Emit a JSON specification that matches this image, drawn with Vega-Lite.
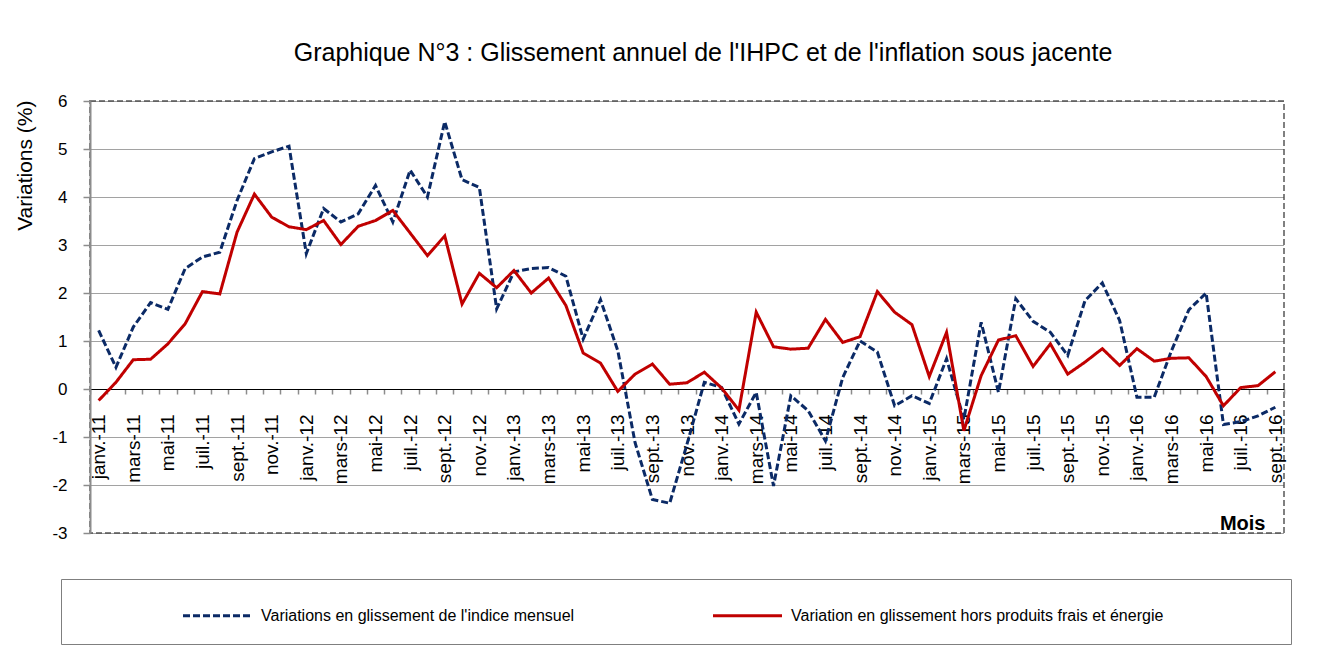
{
  "$schema": "https://vega.github.io/schema/vega-lite/v6.json",
  "width": 1194,
  "height": 432,
  "autosize": {"type": "none"},
  "padding": {"left": 90, "top": 101, "right": 42, "bottom": 129},
  "background": "white",
  "title": {
    "text": "Graphique N°3 : Glissement annuel de l'IHPC et de l'inflation sous jacente",
    "font": "Liberation Sans",
    "fontSize": 25,
    "fontWeight": "normal",
    "color": "#000000",
    "anchor": "middle",
    "dx": 16,
    "offset": 6,
    "baseline": "alphabetic"
  },
  "data": {
    "values": [
      {"mois": "janv.-11", "a": 1.22, "b": -0.24},
      {"mois": "févr.-11", "a": 0.45, "b": 0.14},
      {"mois": "mars-11", "a": 1.29, "b": 0.61},
      {"mois": "avr.-11", "a": 1.80, "b": 0.62},
      {"mois": "mai-11", "a": 1.66, "b": 0.94},
      {"mois": "juin-11", "a": 2.51, "b": 1.36},
      {"mois": "juil.-11", "a": 2.75, "b": 2.03},
      {"mois": "août-11", "a": 2.85, "b": 1.98},
      {"mois": "sept.-11", "a": 3.93, "b": 3.27},
      {"mois": "oct.-11", "a": 4.80, "b": 4.06},
      {"mois": "nov.-11", "a": 4.94, "b": 3.58},
      {"mois": "déc.-11", "a": 5.06, "b": 3.38},
      {"mois": "janv.-12", "a": 2.82, "b": 3.32},
      {"mois": "févr.-12", "a": 3.76, "b": 3.51},
      {"mois": "mars-12", "a": 3.48, "b": 3.01},
      {"mois": "avr.-12", "a": 3.65, "b": 3.39},
      {"mois": "mai-12", "a": 4.24, "b": 3.51},
      {"mois": "juin-12", "a": 3.48, "b": 3.72},
      {"mois": "juil.-12", "a": 4.56, "b": 3.25},
      {"mois": "août-12", "a": 4.00, "b": 2.78},
      {"mois": "sept.-12", "a": 5.57, "b": 3.19},
      {"mois": "oct.-12", "a": 4.36, "b": 1.77},
      {"mois": "nov.-12", "a": 4.20, "b": 2.41},
      {"mois": "déc.-12", "a": 1.67, "b": 2.11},
      {"mois": "janv.-13", "a": 2.44, "b": 2.47},
      {"mois": "févr.-13", "a": 2.51, "b": 2.00},
      {"mois": "mars-13", "a": 2.53, "b": 2.31},
      {"mois": "avr.-13", "a": 2.35, "b": 1.74},
      {"mois": "mai-13", "a": 1.04, "b": 0.75},
      {"mois": "juin-13", "a": 1.86, "b": 0.54},
      {"mois": "juil.-13", "a": 0.80, "b": -0.05},
      {"mois": "août-13", "a": -1.12, "b": 0.31},
      {"mois": "sept.-13", "a": -2.30, "b": 0.52},
      {"mois": "oct.-13", "a": -2.38, "b": 0.10},
      {"mois": "nov.-13", "a": -1.15, "b": 0.13},
      {"mois": "déc.-13", "a": 0.14, "b": 0.35},
      {"mois": "janv.-14", "a": 0.03, "b": 0.02},
      {"mois": "févr.-14", "a": -0.73, "b": -0.44},
      {"mois": "mars-14", "a": -0.07, "b": 1.60},
      {"mois": "avr.-14", "a": -2.02, "b": 0.88},
      {"mois": "mai-14", "a": -0.14, "b": 0.83},
      {"mois": "juin-14", "a": -0.45, "b": 0.85},
      {"mois": "juil.-14", "a": -1.08, "b": 1.45},
      {"mois": "août-14", "a": 0.24, "b": 0.97},
      {"mois": "sept.-14", "a": 1.00, "b": 1.09},
      {"mois": "oct.-14", "a": 0.77, "b": 2.03},
      {"mois": "nov.-14", "a": -0.35, "b": 1.60},
      {"mois": "déc.-14", "a": -0.14, "b": 1.34},
      {"mois": "janv.-15", "a": -0.30, "b": 0.26},
      {"mois": "févr.-15", "a": 0.63, "b": 1.18},
      {"mois": "mars-15", "a": -0.63, "b": -0.87},
      {"mois": "avr.-15", "a": 1.39, "b": 0.28},
      {"mois": "mai-15", "a": -0.07, "b": 1.02},
      {"mois": "juin-15", "a": 1.88, "b": 1.11},
      {"mois": "juil.-15", "a": 1.41, "b": 0.47},
      {"mois": "août-15", "a": 1.18, "b": 0.94},
      {"mois": "sept.-15", "a": 0.70, "b": 0.31},
      {"mois": "oct.-15", "a": 1.84, "b": 0.56},
      {"mois": "nov.-15", "a": 2.21, "b": 0.84},
      {"mois": "déc.-15", "a": 1.43, "b": 0.49},
      {"mois": "janv.-16", "a": -0.17, "b": 0.84},
      {"mois": "févr.-16", "a": -0.17, "b": 0.58},
      {"mois": "mars-16", "a": 0.80, "b": 0.64},
      {"mois": "avr.-16", "a": 1.65, "b": 0.65},
      {"mois": "mai-16", "a": 2.00, "b": 0.26},
      {"mois": "juin-16", "a": -0.74, "b": -0.35},
      {"mois": "juil.-16", "a": -0.68, "b": 0.03},
      {"mois": "août-16", "a": -0.56, "b": 0.07},
      {"mois": "sept.-16", "a": -0.38, "b": 0.36}
    ]
  },
  "transform": [{"fold": ["a", "b"], "as": ["serie", "valeur"]}],
  "mark": {"type": "line", "strokeWidth": 3},
  "encoding": {
    "x": {
      "field": "mois",
      "type": "ordinal",
      "sort": null,
      "bandPosition": 0.5,
      "scale": {"type": "band", "paddingInner": 0, "paddingOuter": 0},
      "axis": {
        "title": "Mois",
        "titleFont": "Liberation Sans",
        "titleFontSize": 20,
        "titleFontWeight": "bold",
        "titleColor": "#000000",
        "titleX": 1175,
        "titleY": 140,
        "titleAlign": "right",
        "titleBaseline": "alphabetic",
        "titleAngle": 0,
        "offset": -144,
        "domainColor": "#000000",
        "domainWidth": 1.2,
        "tickBand": "extent",
        "tickColor": "#8c8c8c",
        "tickSize": 5,
        "tickWidth": 1.5,
        "labelAngle": -90,
        "labelFont": "Liberation Sans",
        "labelFontSize": 19,
        "labelColor": "#000000",
        "labelPadding": 20,
        "labelOverlap": false,
        "labelExpr": "indexof(['févr','avr.','juin','août','oct.','déc.'], slice(datum.label,0,4)) >= 0 ? '' : datum.label",
        "grid": false
      }
    },
    "y": {
      "field": "valeur",
      "type": "quantitative",
      "scale": {"domain": [-3, 6], "nice": false, "zero": false},
      "axis": {
        "title": "Variations (%)",
        "titleFont": "Liberation Sans",
        "titleFontSize": 21,
        "titleFontWeight": "normal",
        "titleColor": "#000000",
        "titleAngle": -90,
        "titleX": -65,
        "titleY": -1,
        "titleAlign": "right",
        "titleBaseline": "middle",
        "values": [-3, -2, -1, 0, 1, 2, 3, 4, 5, 6],
        "labelExpr": "toString(datum.value)",
        "domainColor": "#8c8c8c",
        "domainWidth": 2,
        "tickColor": "#8c8c8c",
        "tickSize": 7,
        "tickWidth": 1.5,
        "labelFont": "Liberation Sans",
        "labelFontSize": 17,
        "labelColor": "#000000",
        "labelPadding": 16,
        "grid": true,
        "gridColor": "#444444",
        "gridDash": [1, 1],
        "gridWidth": 1
      }
    },
    "color": {
      "field": "serie",
      "type": "nominal",
      "scale": {"domain": ["a", "b"], "range": ["#0B2A66", "#C00000"]},
      "legend": {
        "orient": "none", "legendX": -29, "legendY": 478, "direction": "horizontal",
        "title": "\u00a0", "titleOrient": "right", "titlePadding": 108, "titleFontSize": 4,
        "labelExpr": "datum.value == 'a' ? \"Variations en glissement de l'indice mensuel\" : 'Variation en glissement hors produits frais et énergie'",
        "labelFont": "Liberation Sans", "labelFontSize": 16, "labelColor": "#000000", "labelLimit": 900,
        "symbolType": "M-2.3,0L2.3,0", "symbolSize": 900, "symbolStrokeWidth": 3,
        "symbolOffset": 120, "columnPadding": 36, "padding": 20, "labelOffset": 27,
        "strokeColor": "#7f7f7f", "fillColor": "white"
      }
    },
    "strokeDash": {
      "field": "serie",
      "type": "nominal",
      "scale": {"domain": ["a", "b"], "range": [[7, 3], [1, 0]]},
      "legend": {
        "orient": "none", "legendX": -29, "legendY": 478, "direction": "horizontal",
        "title": "\u00a0", "titleOrient": "right", "titlePadding": 108, "titleFontSize": 4,
        "labelExpr": "datum.value == 'a' ? \"Variations en glissement de l'indice mensuel\" : 'Variation en glissement hors produits frais et énergie'",
        "labelFont": "Liberation Sans", "labelFontSize": 16, "labelColor": "#000000", "labelLimit": 900,
        "symbolType": "M-2.3,0L2.3,0", "symbolSize": 900, "symbolStrokeWidth": 3,
        "symbolOffset": 120, "columnPadding": 36, "padding": 20, "labelOffset": 27,
        "strokeColor": "#7f7f7f", "fillColor": "white"
      }
    }
  },
  "config": {
    "view": {"stroke": "#808080", "strokeDash": [6, 3], "strokeWidth": 2}
  }
}
